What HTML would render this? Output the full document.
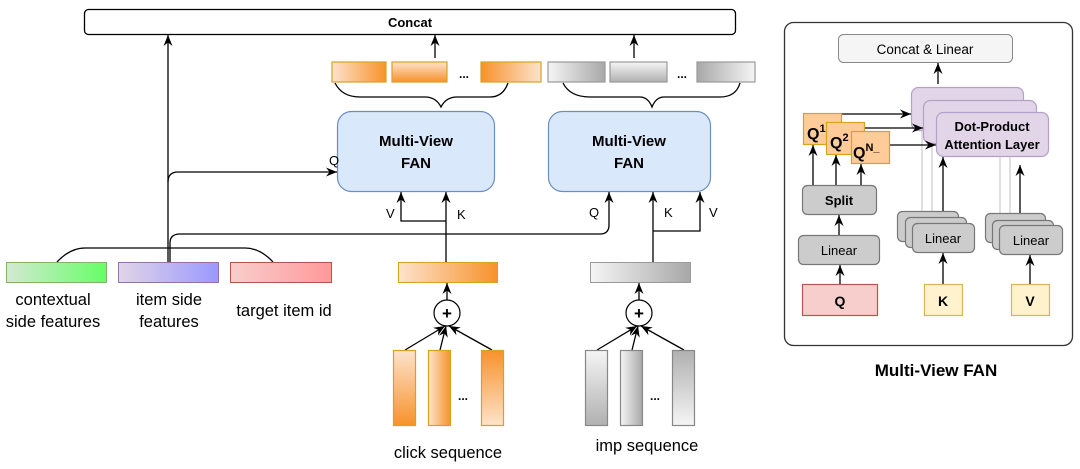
<!DOCTYPE html>
<html><head><meta charset="utf-8"><style>
html,body{margin:0;padding:0;background:#fff;width:1080px;height:469px;overflow:hidden}
svg{display:block}
text{font-family:"Liberation Sans",Arial,sans-serif;fill:#000}
</style></head><body>
<svg width="1080" height="469" viewBox="0 0 1080 469" xmlns="http://www.w3.org/2000/svg">
<defs>
<marker id="a" markerWidth="12" markerHeight="12" refX="11" refY="6" orient="auto" markerUnits="userSpaceOnUse"><path d="M0,1.5 L11,6 L0,10.5 L3.5,6 Z" fill="#000"/></marker>
<linearGradient id="oR" x1="0" x2="1"><stop offset="0" stop-color="#fde3cc"/><stop offset="1" stop-color="#f7922b"/></linearGradient>
<linearGradient id="oL" x1="1" x2="0"><stop offset="0" stop-color="#fde3cc"/><stop offset="1" stop-color="#f7922b"/></linearGradient>
<linearGradient id="oD" x1="0" y1="0" x2="0" y2="1"><stop offset="0" stop-color="#fde3cc"/><stop offset="1" stop-color="#f7922b"/></linearGradient>
<linearGradient id="oU" x1="0" y1="1" x2="0" y2="0"><stop offset="0" stop-color="#fde3cc"/><stop offset="1" stop-color="#f7922b"/></linearGradient>
<linearGradient id="gR" x1="0" x2="1"><stop offset="0" stop-color="#f5f5f5"/><stop offset="1" stop-color="#a8a8a8"/></linearGradient>
<linearGradient id="gL" x1="1" x2="0"><stop offset="0" stop-color="#f5f5f5"/><stop offset="1" stop-color="#a8a8a8"/></linearGradient>
<linearGradient id="gD" x1="0" y1="0" x2="0" y2="1"><stop offset="0" stop-color="#f5f5f5"/><stop offset="1" stop-color="#b0b0b0"/></linearGradient>
<linearGradient id="gU" x1="0" y1="1" x2="0" y2="0"><stop offset="0" stop-color="#f5f5f5"/><stop offset="1" stop-color="#b0b0b0"/></linearGradient>
<linearGradient id="gn" x1="0" x2="1"><stop offset="0" stop-color="#d5e8d4"/><stop offset="1" stop-color="#66ff66"/></linearGradient>
<linearGradient id="pu" x1="0" x2="1"><stop offset="0" stop-color="#e1d5e7"/><stop offset="1" stop-color="#9999ff"/></linearGradient>
<linearGradient id="rd" x1="0" x2="1"><stop offset="0" stop-color="#f8cecc"/><stop offset="1" stop-color="#ff9999"/></linearGradient>
</defs>
<!-- FAN boxes (drawn first) -->
<rect x="337.5" y="111.5" width="157" height="80" rx="14" fill="#dae8fc" stroke="#6c8ebf" stroke-width="1.2"/>
<rect x="548.5" y="111.5" width="162" height="80" rx="14" fill="#dae8fc" stroke="#6c8ebf" stroke-width="1.2"/>
<g stroke="#000" stroke-width="1.3" fill="none">
<rect x="84.5" y="9.5" width="651" height="25" rx="4" fill="#fff"/>
<line x1="168" y1="262" x2="168" y2="35" marker-end="url(#a)"/>
<path d="M168,182 Q168,172 178,172 L337,172" marker-end="url(#a)"/>
<path d="M170,262 L170,243 Q170,234 180,234 L600,234 Q609,234 609,225 L609,192" marker-end="url(#a)"/>
<path d="M57,262 Q70,248 85,248 L245,248 Q260,248 273,262"/>
<line x1="446" y1="262" x2="446" y2="192" marker-end="url(#a)"/>
<path d="M446,221 L401,221 L401,192" marker-end="url(#a)"/>
<line x1="447" y1="300" x2="447" y2="283" marker-end="url(#a)"/>
<line x1="653" y1="262" x2="653" y2="192" marker-end="url(#a)"/>
<path d="M653,231 L700,231 L700,192" marker-end="url(#a)"/>
<line x1="639" y1="300" x2="639" y2="283" marker-end="url(#a)"/>
<line x1="405" y1="350" x2="445" y2="326" marker-end="url(#a)"/>
<line x1="440" y1="350" x2="446" y2="326" marker-end="url(#a)"/>
<line x1="492" y1="350" x2="449" y2="326" marker-end="url(#a)"/>
<line x1="597" y1="350" x2="637" y2="326" marker-end="url(#a)"/>
<line x1="632" y1="350" x2="638" y2="326" marker-end="url(#a)"/>
<line x1="684" y1="350" x2="641" y2="326" marker-end="url(#a)"/>
<line x1="435" y1="58" x2="435" y2="35" marker-end="url(#a)"/>
<line x1="634" y1="58" x2="634" y2="35" marker-end="url(#a)"/>
<path d="M335,83 Q342,97 360,97 L425,97 Q436,97 441,107 Q446,97 457,97 L490,97 Q503,97 508,83"/>
<path d="M563,83 Q570,97 590,97 L640,97 Q648,97 652,107 Q656,97 664,97 L720,97 Q736,97 740,83"/>
</g>
<text x="410" y="27" font-size="13" font-weight="bold" text-anchor="middle">Concat</text>
<g stroke="#d6a31f" stroke-width="1.2">
<rect x="332" y="62" width="54" height="20" fill="url(#oR)"/>
<rect x="392" y="62" width="55" height="20" fill="url(#oD)"/>
<rect x="481" y="62" width="60" height="20" fill="url(#oL)"/>
</g>
<g stroke="#999" stroke-width="1.2">
<rect x="548" y="62" width="57" height="20" fill="url(#gR)"/>
<rect x="610" y="62" width="57" height="20" fill="url(#gD)"/>
<rect x="697" y="62" width="58" height="20" fill="url(#gL)"/>
</g>
<text x="464" y="78" font-size="12" font-weight="bold" text-anchor="middle">...</text>
<text x="682" y="78" font-size="12" font-weight="bold" text-anchor="middle">...</text>
<text x="416" y="146" font-size="15" font-weight="bold" text-anchor="middle">Multi-View</text>
<text x="416" y="168" font-size="15" font-weight="bold" text-anchor="middle">FAN</text>
<text x="629" y="146" font-size="15" font-weight="bold" text-anchor="middle">Multi-View</text>
<text x="629" y="168" font-size="15" font-weight="bold" text-anchor="middle">FAN</text>
<g font-size="13">
<text x="329" y="165">Q</text><text x="386" y="218">V</text><text x="457" y="219">K</text>
<text x="589" y="217">Q</text><text x="664" y="217">K</text><text x="709" y="217">V</text>
</g>
<rect x="6.5" y="262.5" width="100" height="20" fill="url(#gn)" stroke="#82b366"/>
<rect x="118.5" y="262.5" width="100" height="20" fill="url(#pu)" stroke="#9673a6"/>
<rect x="230.5" y="262.5" width="101" height="20" fill="url(#rd)" stroke="#b85450"/>
<g font-size="16.5" text-anchor="middle">
<text x="53" y="305">contextual</text><text x="53" y="327">side features</text>
<text x="169" y="305">item side</text><text x="169" y="327">features</text>
<text x="284" y="316">target item id</text>
<text x="448" y="458">click sequence</text>
<text x="647" y="451">imp sequence</text>
</g>
<rect x="398.5" y="262.5" width="99" height="20" fill="url(#oR)" stroke="#d6a31f"/>
<rect x="590.5" y="262.5" width="100" height="20" fill="url(#gR)" stroke="#999"/>
<g stroke="#000" stroke-width="1.2" fill="#fff">
<circle cx="447" cy="313" r="13"/><circle cx="639" cy="313" r="13"/>
</g>
<text x="447" y="319" font-size="17" font-weight="bold" text-anchor="middle">+</text>
<text x="639" y="319" font-size="17" font-weight="bold" text-anchor="middle">+</text>
<g stroke="#d6a31f" stroke-width="1.2">
<rect x="393.5" y="350.5" width="22" height="75" fill="url(#oD)"/>
<rect x="428.5" y="350.5" width="22" height="75" fill="url(#oR)"/>
<rect x="481.5" y="350.5" width="22" height="75" fill="url(#oU)"/>
</g>
<g stroke="#888" stroke-width="1.2">
<rect x="585.5" y="350.5" width="22" height="75" fill="url(#gD)"/>
<rect x="620.5" y="350.5" width="22" height="75" fill="url(#gR)"/>
<rect x="672.5" y="350.5" width="22" height="75" fill="url(#gU)"/>
</g>
<text x="463" y="400" font-size="12" font-weight="bold" text-anchor="middle">...</text>
<text x="655" y="400" font-size="12" font-weight="bold" text-anchor="middle">...</text>

<rect x="784.5" y="22.5" width="288" height="323" rx="9" fill="#fff" stroke="#333" stroke-width="1.3"/>
<rect x="838.5" y="34.5" width="174" height="28" rx="5" fill="#f5f5f5" stroke="#888"/>
<text x="925" y="54" font-size="13.5" text-anchor="middle" fill="#333">Concat &amp; Linear</text>
<g stroke="#000" stroke-width="1.3" fill="none">
<line x1="938" y1="84" x2="938" y2="63" marker-end="url(#a)"/>
</g>
<g stroke="#b4a0c8" stroke-width="1.2">
<rect x="911.5" y="87.5" width="112" height="43" rx="7" fill="#e1d5e7"/>
<rect x="923.5" y="100.5" width="113" height="43" rx="7" fill="#e1d5e7"/>
<rect x="936.5" y="112.5" width="112" height="44" rx="7" fill="#e1d5e7"/>
</g>
<text x="992" y="131" font-size="13" font-weight="bold" text-anchor="middle">Dot-Product</text>
<text x="992" y="149" font-size="13" font-weight="bold" text-anchor="middle">Attention Layer</text>
<g stroke="#ccc" stroke-width="1.2">
<line x1="922" y1="131" x2="922" y2="211"/><line x1="932" y1="143" x2="932" y2="217"/>
<line x1="1000" y1="157" x2="1000" y2="213"/><line x1="1010" y1="157" x2="1010" y2="220"/>
</g>
<g stroke="#000" stroke-width="1.3" fill="none">
<line x1="842" y1="114" x2="911" y2="114" marker-end="url(#a)"/>
<line x1="864" y1="128" x2="923" y2="128" marker-end="url(#a)"/>
<line x1="889" y1="145" x2="936" y2="145" marker-end="url(#a)"/>
<line x1="813" y1="185" x2="813" y2="145" marker-end="url(#a)"/>
<line x1="836" y1="185" x2="836" y2="155" marker-end="url(#a)"/>
<line x1="861" y1="185" x2="861" y2="164" marker-end="url(#a)"/>
<line x1="839" y1="235" x2="839" y2="215" marker-end="url(#a)"/>
<line x1="840" y1="284" x2="840" y2="265" marker-end="url(#a)"/>
<line x1="943" y1="284" x2="943" y2="253" marker-end="url(#a)"/>
<line x1="1030" y1="284" x2="1030" y2="255" marker-end="url(#a)"/>
<line x1="943" y1="223" x2="943" y2="157" marker-end="url(#a)"/>
<line x1="1020" y1="225" x2="1020" y2="165" marker-end="url(#a)"/>
</g>
<g stroke="#d6a31f" stroke-width="1.2" fill="#ffcc99">
<rect x="803.5" y="113.5" width="38" height="31"/>
<rect x="826.5" y="122.5" width="38" height="32"/>
<rect x="851.5" y="131.5" width="38" height="32"/>
</g>
<text x="807" y="139" font-size="16" font-weight="bold">Q<tspan font-size="11" dy="-7">1</tspan></text>
<text x="830" y="148" font-size="16" font-weight="bold">Q<tspan font-size="11" dy="-7">2</tspan></text>
<text x="853" y="158" font-size="16" font-weight="bold">Q<tspan font-size="11" dy="-7">N_</tspan></text>
<g stroke="#777" stroke-width="1.2" fill="#cccccc">
<rect x="802.5" y="185.5" width="74" height="29" rx="5"/>
<rect x="798.5" y="235.5" width="81" height="29" rx="5"/>
<rect x="897.5" y="211.5" width="61" height="30" rx="5"/>
<rect x="905.5" y="217.5" width="61" height="30" rx="5"/>
<rect x="912.5" y="223.5" width="62" height="29" rx="5"/>
<rect x="985.5" y="213.5" width="60" height="29" rx="5"/>
<rect x="992.5" y="220.5" width="61" height="29" rx="5"/>
<rect x="999.5" y="225.5" width="63" height="29" rx="5"/>
</g>
<text x="839" y="205" font-size="13" font-weight="bold" text-anchor="middle" fill="#333">Split</text>
<text x="839" y="255" font-size="13" text-anchor="middle" fill="#333">Linear</text>
<text x="943" y="243" font-size="13" text-anchor="middle" fill="#333">Linear</text>
<text x="1031" y="245" font-size="13" text-anchor="middle" fill="#333">Linear</text>
<rect x="802.5" y="284.5" width="75" height="31" fill="#f8cecc" stroke="#b85450" stroke-width="1.2"/>
<rect x="924.5" y="284.5" width="38" height="31" fill="#fff2cc" stroke="#d6b656" stroke-width="1.2"/>
<rect x="1011.5" y="284.5" width="38" height="31" fill="#fff2cc" stroke="#d6b656" stroke-width="1.2"/>
<text x="840" y="306" font-size="14" font-weight="bold" text-anchor="middle">Q</text>
<text x="943" y="306" font-size="14" font-weight="bold" text-anchor="middle">K</text>
<text x="1030" y="306" font-size="14" font-weight="bold" text-anchor="middle">V</text>
<text x="936" y="376" font-size="17" font-weight="bold" text-anchor="middle">Multi-View FAN</text>
</svg>
</body></html>
